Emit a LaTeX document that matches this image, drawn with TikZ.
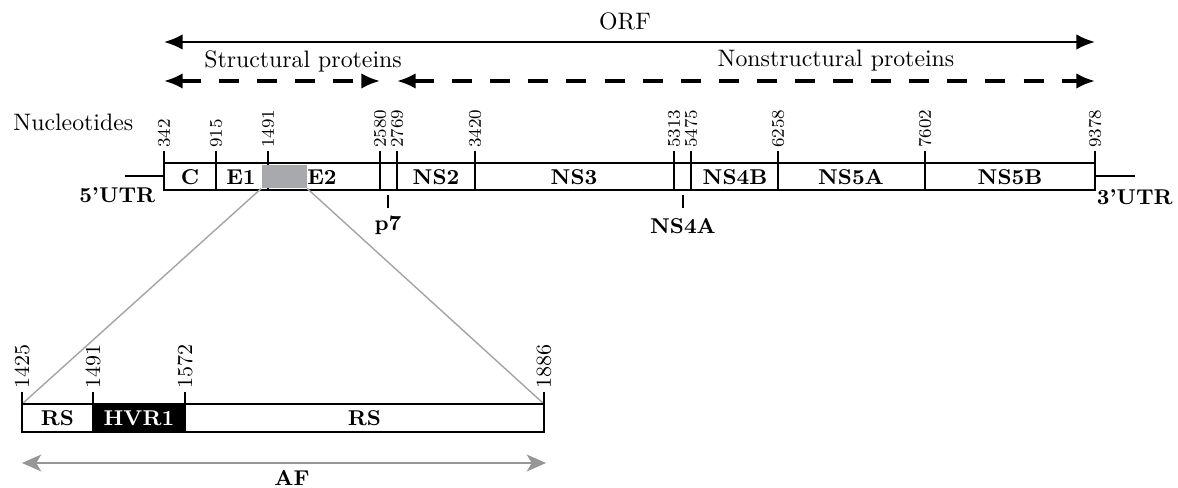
\documentclass[tikz,border=0pt]{standalone}
\usepackage{amsmath}
\usetikzlibrary{arrows.meta, positioning}
\definecolor{hvrgray}{RGB}{167,169,172}
\definecolor{zoomgray}{RGB}{165,165,165}
\definecolor{afgray}{RGB}{150,150,150}
\tikzset{>={Latex[length=7.8pt,width=6.5pt]},
  genome/.style={line width=0.8pt},
  span/.style={line width=1pt, <->},
  dashspan/.style={line width=1.3pt, <->, dash pattern=on 8.4pt off 7.6pt},
  numlabel/.style={rotate=90, anchor=west, inner sep=1pt, font=\fontsize{7.5}{9}\selectfont},
  genelabel/.style={font=\small\bfseries, inner sep=1pt}}

\begin{document}
\begin{tikzpicture}[x=0.42pt, y=-0.42pt]
            \useasboundingbox (0,0) rectangle (1178,488);
            \coordinate (orfL) at (164,42); \coordinate (orfR) at (1095,42);
            \coordinate (stL) at (164,81); \coordinate (stR) at (380,81);
            \coordinate (nsL) at (397,81); \coordinate (nsR) at (1095,81);
            \draw[span] (orfL) -- (orfR);
            \draw[dashspan] (stL) -- (stR);
            \draw[dashspan] (nsL) -- (nsR);
            \node (orf) at (625,21) {ORF};
            \node (struct) at (303,61) {Structural proteins};
            \node (nonstruct) at (836,61) {Nonstructural proteins};
            \node[anchor=west] (nucl) at (5,122) {Nucleotides};
            % genome
            \coordinate (utr5) at (125,176); \coordinate (utr3) at (1135,176);
            \draw[genome] (164,163) rectangle (1095,190);
            \draw[genome] (utr5) -- (164,176);
            \draw[genome] (1095,176) -- (utr3);
            \foreach \x/\n in {164/342, 216/915, 268/1491, 380/2580, 397/2769, 475/3420, 674/5313, 691/5475, 778/6258, 925/7602, 1095/9378}
              \draw[genome] (\x,190) -- (\x,151) node[numlabel] (n\n) {\n};
            \node[fill=hvrgray, inner sep=0pt, minimum width=18.9pt, minimum height=9.7pt] (hvr) at (284.2,176.5) {};
            \foreach \x/\g in {190/C, 241/E1, 322/E2, 436/NS2, 574/NS3, 735/NS4B, 851/NS5A, 1010/NS5B}
              \node[genelabel] (g\g) at (\x,177) {\g};
            \node[genelabel, anchor=east] (l5) at (158,195) {5'UTR};
            \node[genelabel, anchor=west] (l3) at (1094,197) {3'UTR};
            \coordinate (p7top) at (388,195); \coordinate (p7bot) at (388,208);
            \coordinate (ns4atop) at (683,195); \coordinate (ns4abot) at (683,208);
            \draw[line width=0.5pt] (p7top) -- (p7bot);
            \draw[line width=0.5pt] (ns4atop) -- (ns4abot);
            \node[genelabel] (p7) at (388,225) {p7};
            \node[genelabel] (ns4a) at (683,226) {NS4A};
            % zoom on E2
            \coordinate (lowNW) at (22,404); \coordinate (lowNE) at (544,404);
            \draw[zoomgray, line width=0.6pt] (hvr.south west) -- (lowNW);
            \draw[zoomgray, line width=0.6pt] (hvr.south east) -- (lowNE);
            \fill (93,404) rectangle (185,432);
            \draw[genome] (lowNW) rectangle (544,432);
            \foreach \x/\n in {22/1425, 93/1491, 185/1572, 544/1886}
              \draw[genome] (\x,432) -- (\x,392) node[numlabel, font=\small] (m\n) {\n};
            \node[genelabel] (rs1) at (57.5,418) {RS};
            \node[genelabel, text=white] (hvr1) at (139,418) {HVR1};
            \node[genelabel] (rs2) at (364.5,418) {RS};
            \coordinate (afL) at (22,463); \coordinate (afR) at (546,463);
            \draw[afgray, line width=1.1pt, <->, >={Stealth[length=8pt,width=7pt,inset=2pt]}] (afL) -- (afR);
            \node[genelabel, inner sep=0pt] (af) at (292,478) {AF};
        \end{tikzpicture}
\end{document}
